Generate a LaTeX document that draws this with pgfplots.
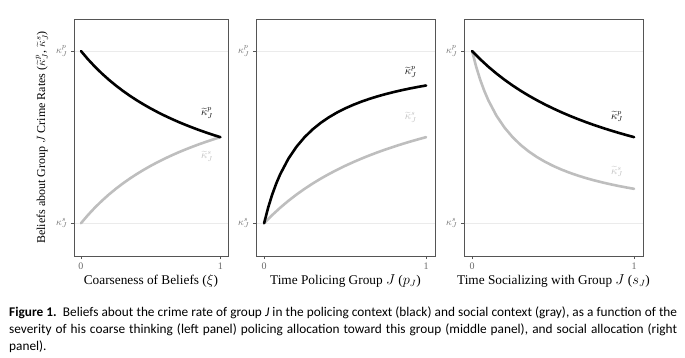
\documentclass[border=0pt]{standalone}
\usepackage{fontspec}
\setmainfont{Liberation Serif}
\newfontfamily\capfont{Carlito}
\usepackage{pgfplots}
\pgfplotsset{compat=1.18}
\definecolor{lgray}{HTML}{BEBEBE}
\definecolor{border}{HTML}{555555}
\definecolor{gridc}{HTML}{EBEBEB}
\definecolor{tickc}{HTML}{6A6A6A}

\tikzset{lab/.style={font=\fontsize{10.5}{12}\selectfont, inner sep=1pt}}
\pgfplotsset{
  panel/.style={
    scale only axis,
    height=237pt,
    xmin=-0.05, xmax=1.055,
    ymin=-0.19, ymax=1.186,
    xtick={0,1}, ytick={0,1},
    yticklabels={$\kappa^s_J$,$\kappa^p_J$},
    tick pos=left,
    tick align=outside,
    major tick length=3pt,
    every tick/.style={color=border, line width=0.6pt},
    axis line style={color=border, line width=0.8pt},
    ymajorgrids,
    grid style={color=gridc, line width=0.6pt},
    tick label style={font=\fontsize{10}{11}\selectfont, color=tickc},
    /pgf/number format/assume math mode=true,
    xlabel style={at={(axis description cs:0.5,-0.105)}, anchor=center, font=\fontsize{13.3}{15}\selectfont},
    ylabel style={at={(axis description cs:-0.208,0.5)}, anchor=center, font=\fontsize{12}{14}\selectfont},
    clip=false,
  },
  blk/.style={black, line width=2.6pt, line join=round, line cap=round},
  gry/.style={lgray, line width=2.6pt, line join=round, line cap=round},
}

\begin{document}
\begin{tikzpicture}
\path[use as bounding box] (0,0) rectangle (685pt,-358pt);

% Panel 1
\begin{axis}[panel, width=154pt, at={(74pt,-19pt)}, anchor=north west,
  xlabel={Coarseness of Beliefs ($\xi$)},
  ylabel={Beliefs about Group $J$ Crime Rates ($\widetilde{\kappa}^p_J$, $\widetilde{\kappa}^s_J$)}]
\addplot[gry] coordinates {(0,0) (0.05,0.0476) (0.1,0.0909) (0.15,0.1304) (0.2,0.1667) (0.25,0.2) (0.3,0.2308) (0.35,0.2593) (0.4,0.2857) (0.45,0.3103) (0.5,0.3333) (0.55,0.3548) (0.6,0.375) (0.65,0.3939) (0.7,0.4118) (0.75,0.4286) (0.8,0.4444) (0.85,0.4595) (0.9,0.4737) (0.95,0.4872) (1,0.5)};
\addplot[blk] coordinates {(0,1) (0.05,0.9524) (0.1,0.9091) (0.15,0.8696) (0.2,0.8333) (0.25,0.8) (0.3,0.7692) (0.35,0.7407) (0.4,0.7143) (0.45,0.6897) (0.5,0.6667) (0.55,0.6452) (0.6,0.625) (0.65,0.6061) (0.7,0.5882) (0.75,0.5714) (0.8,0.5556) (0.85,0.5405) (0.9,0.5263) (0.95,0.5128) (1,0.5)};
\node[lab] at (axis cs:0.905,0.64) {$\widetilde{\kappa}^p_J$};
\node[lab, text=lgray] at (axis cs:0.905,0.39) {$\widetilde{\kappa}^s_J$};
\end{axis}

% Panel 2
\begin{axis}[panel, width=179pt, at={(256pt,-19pt)}, anchor=north west,
  xlabel={Time Policing Group $J$ ($p_J$)}]
\addplot[gry] coordinates {(0,0) (0.05,0.0476) (0.1,0.0909) (0.15,0.1304) (0.2,0.1667) (0.25,0.2) (0.3,0.2308) (0.35,0.2593) (0.4,0.2857) (0.45,0.3103) (0.5,0.3333) (0.55,0.3548) (0.6,0.375) (0.65,0.3939) (0.7,0.4118) (0.75,0.4286) (0.8,0.4444) (0.85,0.4595) (0.9,0.4737) (0.95,0.4872) (1,0.5)};
\addplot[blk] coordinates {(0,0) (0.025,0.0909) (0.05,0.1667) (0.075,0.2308) (0.1,0.2857) (0.15,0.375) (0.2,0.4444) (0.25,0.5) (0.3,0.5455) (0.35,0.5833) (0.4,0.6154) (0.45,0.6429) (0.5,0.6667) (0.55,0.6875) (0.6,0.7059) (0.65,0.7222) (0.7,0.7368) (0.75,0.75) (0.8,0.7619) (0.85,0.7727) (0.9,0.7826) (0.95,0.7917) (1,0.8)};
\node[lab] at (axis cs:0.905,0.88) {$\widetilde{\kappa}^p_J$};
\node[lab, text=lgray] at (axis cs:0.905,0.615) {$\widetilde{\kappa}^s_J$};
\end{axis}

% Panel 3
\begin{axis}[panel, width=179pt, at={(464pt,-19pt)}, anchor=north west,
  xlabel={Time Socializing with Group $J$ ($s_J$)}]
\addplot[gry] coordinates {(0,1) (0.025,0.9091) (0.05,0.8333) (0.075,0.7692) (0.1,0.7143) (0.15,0.625) (0.2,0.5556) (0.25,0.5) (0.3,0.4545) (0.35,0.4167) (0.4,0.3846) (0.45,0.3571) (0.5,0.3333) (0.55,0.3125) (0.6,0.2941) (0.65,0.2778) (0.7,0.2632) (0.75,0.25) (0.8,0.2381) (0.85,0.2273) (0.9,0.2174) (0.95,0.2083) (1,0.2)};
\addplot[blk] coordinates {(0,1) (0.05,0.9524) (0.1,0.9091) (0.15,0.8696) (0.2,0.8333) (0.25,0.8) (0.3,0.7692) (0.35,0.7407) (0.4,0.7143) (0.45,0.6897) (0.5,0.6667) (0.55,0.6452) (0.6,0.625) (0.65,0.6061) (0.7,0.5882) (0.75,0.5714) (0.8,0.5556) (0.85,0.5405) (0.9,0.5263) (0.95,0.5128) (1,0.5)};
\node[lab] at (axis cs:0.895,0.62) {$\widetilde{\kappa}^p_J$};
\node[lab, text=lgray] at (axis cs:0.895,0.30) {$\widetilde{\kappa}^s_J$};
\end{axis}

% Caption
\node[anchor=north west, inner sep=0pt, text width=668pt, align=justify,
  font=\capfont\fontsize{13.3}{17}\selectfont] at (9pt,-307pt)
{\textbf{Figure 1.}\ \ Beliefs about the crime rate of group \textit{J} in the policing context (black) and social context (gray), as a function of the\linebreak
severity of his coarse thinking (left panel) policing allocation toward this group (middle panel), and social allocation (right\linebreak
panel).};
\end{tikzpicture}
\end{document}
